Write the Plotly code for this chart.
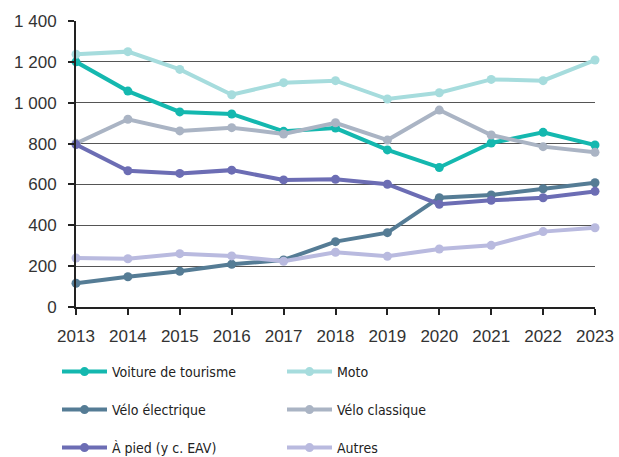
import plotly.graph_objects as go

years = [2013, 2014, 2015, 2016, 2017, 2018, 2019, 2020, 2021, 2022, 2023]
voiture = [1200, 1057, 955, 945, 860, 876, 769, 683, 803, 855, 793]
moto = [1237, 1250, 1163, 1039, 1098, 1108, 1018, 1049, 1114, 1108, 1209]
velo_elec = [116, 148, 175, 209, 230, 320, 364, 535, 548, 579, 608]
velo_class = [801, 919, 862, 878, 847, 902, 817, 964, 842, 785, 757]
a_pied = [795, 667, 654, 670, 622, 625, 601, 503, 522, 535, 566]
autres = [240, 236, 261, 250, 224, 268, 248, 284, 302, 369, 388]

series = [
    ("Voiture de tourisme", voiture, "#14b8af", "legend"),
    ("Moto", moto, "#a6dcdd", "legend"),
    ("Vélo électrique", velo_elec, "#557c95", "legend2"),
    ("Vélo classique", velo_class, "#aab4c4", "legend2"),
    ("À pied (y c. EAV)", a_pied, "#6c6db4", "legend3"),
    ("Autres", autres, "#b9badf", "legend3"),
]

fig = go.Figure()
for name, vals, col, lg in series:
    fig.add_trace(go.Scatter(
        x=years, y=vals, name=name, mode="lines+markers",
        line=dict(color=col, width=4),
        marker=dict(color=col, size=9),
        cliponaxis=False, legend=lg,
    ))

legend_font = dict(family="DejaVu Sans Condensed, Liberation Sans", size=14, color="#222222")

def mk_legend(ypix):
    return dict(
        orientation="h", x=57 / 619, y=1 - ypix / 457, xref="container", yref="container",
        xanchor="left", yanchor="middle",
        entrywidth=165, entrywidthmode="pixels", itemwidth=45,
        font=legend_font, bgcolor="rgba(0,0,0,0)",
    )

fig.update_layout(
    width=619, height=457,
    margin=dict(l=76, r=24, t=21, b=150, autoexpand=False),
    plot_bgcolor="white", paper_bgcolor="white",
    separators=", ",
    font=dict(family="Liberation Sans, Arial", size=17, color="#333333"),
    showlegend=True,
    legend=mk_legend(372),
    legend2=mk_legend(410),
    legend3=mk_legend(448),
    xaxis=dict(
        range=[2013, 2023], tickmode="array", tickvals=years,
        ticktext=[str(y) for y in years],
        showgrid=False, showline=True, linecolor="#222222", linewidth=2,
        ticks="outside", ticklen=6, tickwidth=2, tickcolor="#222222",
        tickfont=dict(size=17, color="#333333"), zeroline=False, automargin=False,
        ticklabelstandoff=7,
    ),
    yaxis=dict(
        range=[0, 1400], tickvals=[0, 200, 400, 600, 800, 1000, 1200, 1400],
        tickformat=",d", showgrid=True, gridcolor="#555555", gridwidth=1,
        showline=True, linecolor="#222222", linewidth=2,
        ticks="outside", ticklen=6, tickwidth=2, tickcolor="#222222",
        tickfont=dict(size=17, color="#333333"), zeroline=False, automargin=False,
        ticklabelstandoff=8,
    ),
)

fig.write_html(
    "out.html",
    config={"displayModeBar": False},
    post_script="document.body.style.margin='0';document.body.style.overflow='hidden';",
)
